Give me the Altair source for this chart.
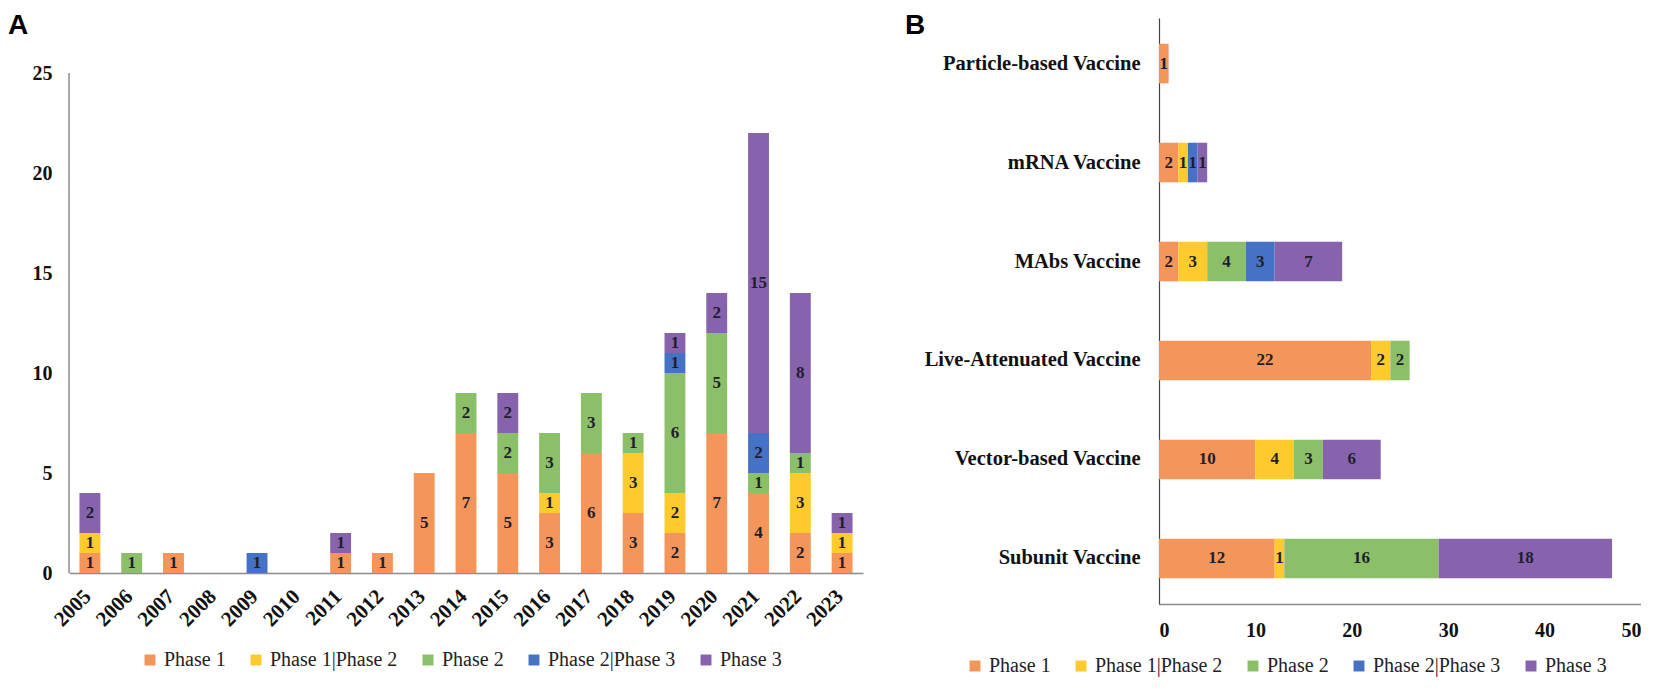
import altair as alt
import pandas as pd

phases = ["Phase 1", "Phase 1|Phase 2", "Phase 2", "Phase 2|Phase 3", "Phase 3"]
colors = ["#F4965A", "#FECB2F", "#8CC068", "#4572C4", "#8763AD"]

years = [str(y) for y in range(2005, 2024)]
a_p1 = [1, 0, 1, 0, 0, 0, 1, 1, 5, 7, 5, 3, 6, 3, 2, 7, 4, 2, 1]
a_p12 = [1, 0, 0, 0, 0, 0, 0, 0, 0, 0, 0, 1, 0, 3, 2, 0, 0, 3, 1]
a_p2 = [0, 1, 0, 0, 0, 0, 0, 0, 0, 2, 2, 3, 3, 1, 6, 5, 1, 1, 0]
a_p23 = [0, 0, 0, 0, 1, 0, 0, 0, 0, 0, 0, 0, 0, 0, 1, 0, 2, 0, 0]
a_p3 = [2, 0, 0, 0, 0, 0, 1, 0, 0, 0, 2, 0, 0, 0, 1, 2, 15, 8, 1]

types = ["Particle-based Vaccine", "mRNA Vaccine", "MAbs Vaccine",
         "Live-Attenuated Vaccine", "Vector-based Vaccine", "Subunit Vaccine"]
b_p1 = [1, 2, 2, 22, 10, 12]
b_p12 = [0, 1, 3, 2, 4, 1]
b_p2 = [0, 0, 4, 2, 3, 16]
b_p23 = [0, 1, 3, 0, 0, 0]
b_p3 = [0, 1, 7, 0, 6, 18]

def long(cats, series, key):
    rows = []
    for i, c in enumerate(cats):
        for j, s in enumerate(series):
            if s[i] > 0:
                rows.append({key: c, "phase": phases[j], "idx": j, "value": s[i]})
    return pd.DataFrame(rows)

dfa = long(years, [a_p1, a_p12, a_p2, a_p23, a_p3], "year")
dfb = long(types, [b_p1, b_p12, b_p2, b_p23, b_p3], "type")

SERIF = "Liberation Serif"
SANS = "Liberation Sans"

color_scale = alt.Scale(domain=phases, range=colors)

def legend(x, y, colpad, fs, ss, off):
    return alt.Legend(orient="none", legendX=x, legendY=y, direction="horizontal",
                      title=None, symbolType="square", symbolSize=ss,
                      symbolStrokeWidth=0, labelFont=SERIF, labelFontSize=fs,
                      labelColor="#222222", columnPadding=colpad, labelOffset=off,
                      padding=0)

# ---------- Panel A ----------
baseA = alt.Chart(dfa).transform_stack(
    stack="value", groupby=["year"], as_=["v0", "v1"],
    sort=[alt.SortField("idx", order="ascending")]
).transform_calculate(mid="(datum.v0 + datum.v1) / 2")

xA = alt.X("year:N", scale=alt.Scale(domain=years, paddingInner=0.5, paddingOuter=0.25),
           axis=alt.Axis(title=None, labelAngle=-45, labelAlign="right", labelBaseline="middle",
                         labelFont=SERIF, labelFontWeight="bold", labelFontSize=21,
                         labelColor="#111111", labelPadding=20, labelOffset=-2, ticks=False,
                         domainColor="#8c8c8c", domainWidth=1.5))
yScaleA = alt.Scale(domain=[0, 27.75], nice=False)

barsA = baseA.mark_bar().encode(
    x=xA,
    y=alt.Y("v0:Q", scale=yScaleA,
            axis=alt.Axis(title=None, values=[0, 5, 10, 15, 20, 25], domain=False, ticks=False,
                          grid=False, labelFont=SERIF, labelFontWeight="bold", labelFontSize=20,
                          labelColor="#111111", labelPadding=17)),
    y2="v1:Q",
    color=alt.Color("phase:N", scale=color_scale, legend=legend(71, 632, 20, 20, 120, 4)),
    order=alt.Order("idx:Q"),
)
textA = baseA.mark_text(font=SERIF, fontWeight="bold", fontSize=17, color="#1e1e2e").encode(
    x=alt.X("year:N", scale=alt.Scale(domain=years)),
    y=alt.Y("mid:Q", scale=yScaleA),
    text="value:Q",
)
ruleA = alt.Chart(pd.DataFrame({"lo": [0], "hi": [25]})).mark_rule(
    color="#8c8c8c", strokeWidth=1.5).encode(
    x=alt.value(0), y=alt.Y("lo:Q", scale=yScaleA), y2="hi:Q")
labA = alt.Chart(pd.DataFrame({"t": ["A"]})).mark_text(
    font=SANS, fontWeight="bold", fontSize=28, align="left", baseline="top", color="#000000"
).encode(x=alt.value(-61), y=alt.value(-6), text="t:N")

chartA = alt.layer(barsA, textA, ruleA, labA).properties(width=794, height=555)

# ---------- Panel B ----------
baseB = alt.Chart(dfb).transform_stack(
    stack="value", groupby=["type"], as_=["v0", "v1"],
    sort=[alt.SortField("idx", order="ascending")]
).transform_calculate(mid="(datum.v0 + datum.v1) / 2")

yB = alt.Y("type:N", scale=alt.Scale(domain=types, paddingInner=0.6, paddingOuter=0.26),
           axis=alt.Axis(title=None, ticks=False, labelFont=SERIF, labelFontWeight="bold",
                         labelFontSize=20.5, labelColor="#111111", labelPadding=19,
                         domainColor="#444444", domainWidth=1.2, labelLimit=400))
xScaleB = alt.Scale(domain=[0, 50], nice=False)
barsB = baseB.mark_bar().encode(
    y=yB,
    x=alt.X("v0:Q", scale=xScaleB,
            axis=alt.Axis(title=None, values=[0, 10, 20, 30, 40, 50], ticks=False, grid=False,
                          labelFont=SERIF, labelFontWeight="bold", labelFontSize=20,
                          labelColor="#111111", labelPadding=16,
                          domainColor="#8c8c8c", domainWidth=1.5)),
    x2="v1:Q",
    color=alt.Color("phase:N", scale=color_scale, legend=legend(-194, 638, 20, 20, 120, 4)),
    order=alt.Order("idx:Q"),
)
textB = baseB.mark_text(font=SERIF, fontWeight="bold", fontSize=17, color="#1e1e2e").encode(
    y=alt.Y("type:N", scale=alt.Scale(domain=types)),
    x=alt.X("mid:Q", scale=xScaleB),
    text="value:Q",
)
labB = alt.Chart(pd.DataFrame({"t": ["B"]})).mark_text(
    font=SANS, fontWeight="bold", fontSize=28, align="left", baseline="top", color="#000000"
).encode(x=alt.value(-254), y=alt.value(-6), text="t:N")

chartB = alt.layer(barsB, textB, labB).properties(width=482, height=586)

chart = alt.hconcat(chartA, chartB, spacing=296, bounds="flush").resolve_legend(
    color="independent").properties(
    padding={"left": 0, "top": 4, "right": 0, "bottom": 2}, background="white"
).configure_view(strokeWidth=0, stroke="transparent").configure_legend(labelFont=SERIF)

chart.save("out.html", embed_options={"renderer": "svg", "actions": False})
